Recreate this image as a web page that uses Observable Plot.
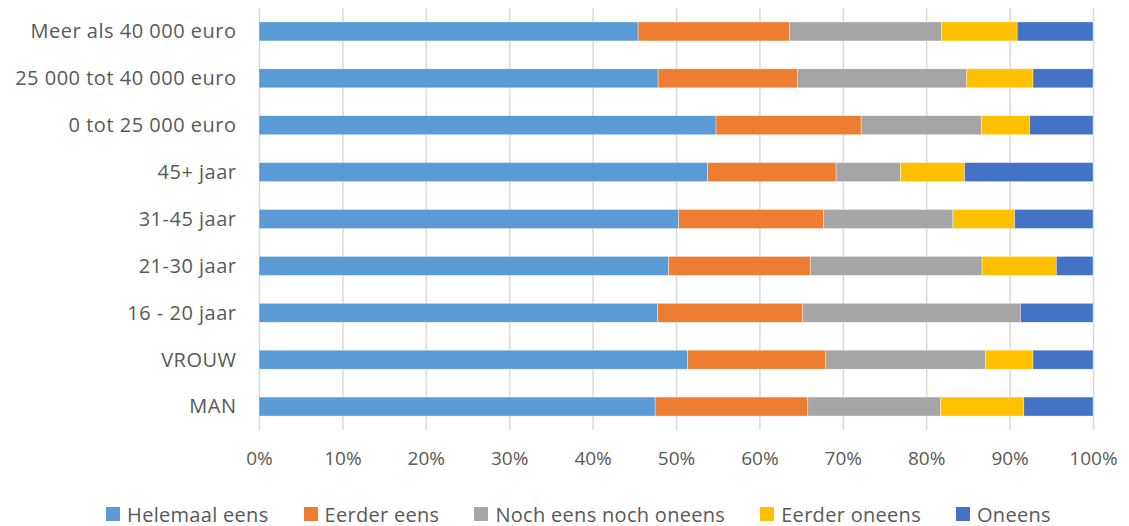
<!DOCTYPE html>
<html>
<head>
<meta charset="utf-8">
<script src="https://cdn.jsdelivr.net/npm/d3@7"></script>
<script src="https://cdn.jsdelivr.net/npm/@observablehq/plot@0.6"></script>
<style>
  html, body { margin: 0; padding: 0; background: #fff; }
  #wrap { position: relative; width: 1129px; height: 526px; font-family: "Open Sans", Lato, sans-serif; }
  #legend { position: absolute; left: 0; top: 503px; width: 1129px; height: 22px; display: flex; justify-content: center; align-items: center; gap: 35px; padding-left: 28px; box-sizing: border-box; }
  .item { display: flex; align-items: center; gap: 7px; font-size: 20px; letter-spacing: 0.3px; color: #595959; white-space: nowrap; }
  .sw { width: 14px; height: 14px; display: inline-block; }
  .yax text { letter-spacing: 0.5px; }
</style>
</head>
<body>
<div id="wrap">
  <div id="chart"></div>
  <div id="legend"></div>
</div>
<script>
const categories = ["Meer als 40 000 euro", "25 000 tot 40 000 euro", "0 tot 25 000 euro", "45+ jaar", "31-45 jaar", "21-30 jaar", "16 - 20 jaar", "VROUW", "MAN"];
const seriesNames = ["Helemaal eens", "Eerder eens", "Noch eens noch oneens", "Eerder oneens", "Oneens"];
const seriesColors = ["#5B9BD5", "#ED7D31", "#A5A5A5", "#FFC000", "#4472C4"];
const helemaalEens = [45.5, 47.9, 54.8, 53.8, 50.3, 49.1, 47.8, 51.4, 47.5];
const eerderEens   = [18.2, 16.7, 17.4, 15.4, 17.4, 17.0, 17.4, 16.5, 18.3];
const noch         = [18.2, 20.3, 14.4,  7.7, 15.5, 20.6, 26.1, 19.2, 15.9];
const eerderOneens = [ 9.1,  8.0,  5.8,  7.7,  7.4,  8.9,  0.0,  5.7, 10.0];
const oneens       = [ 9.1,  7.2,  7.6, 15.4,  9.4,  4.4,  8.7,  7.2,  8.3];
const xTicks = [0, 0.1, 0.2, 0.3, 0.4, 0.5, 0.6, 0.7, 0.8, 0.9, 1];

const seriesValues = [helemaalEens, eerderEens, noch, eerderOneens, oneens];
const data = [];
seriesNames.forEach((s, si) => {
  categories.forEach((c, ci) => {
    data.push({category: c, series: s, value: seriesValues[si][ci]});
  });
});

const chart = Plot.plot({
  width: 1129,
  height: 490,
  marginLeft: 259,
  marginRight: 36,
  marginTop: 8,
  marginBottom: 60,
  style: {fontFamily: "'Open Sans', Lato, sans-serif", color: "#595959", background: "#fff"},
  x: {domain: [0, 1], label: null},
  y: {domain: categories, paddingInner: 0.595, paddingOuter: 0.2975, round: false, label: null},
  color: {domain: seriesNames, range: seriesColors},
  marks: [
    Plot.ruleX(xTicks, {stroke: "#d9d9d9", strokeWidth: 1.5}),
    Plot.barX(data, Plot.stackX({
      x: "value", y: "category", fill: "series",
      order: seriesNames, offset: "normalize",
      stroke: "#ffffff", strokeWidth: 0.6, strokeOpacity: 0.6
    })),
    Plot.axisX({ticks: xTicks, tickFormat: d3.format(".0%"), tickSize: 0, tickPadding: 21, fontSize: 19, fill: "#595959", label: null}),
    Plot.axisY({tickSize: 0, tickPadding: 23, fontSize: 20, fill: "#595959", label: null, className: "yax"})
  ]
});
document.getElementById("chart").appendChild(chart);

const legend = document.getElementById("legend");
seriesNames.forEach((s, i) => {
  const item = document.createElement("div");
  item.className = "item";
  const sw = document.createElement("span");
  sw.className = "sw";
  sw.style.background = seriesColors[i];
  const t = document.createElement("span");
  t.textContent = s;
  item.appendChild(sw);
  item.appendChild(t);
  legend.appendChild(item);
});
</script>
</body>
</html>
